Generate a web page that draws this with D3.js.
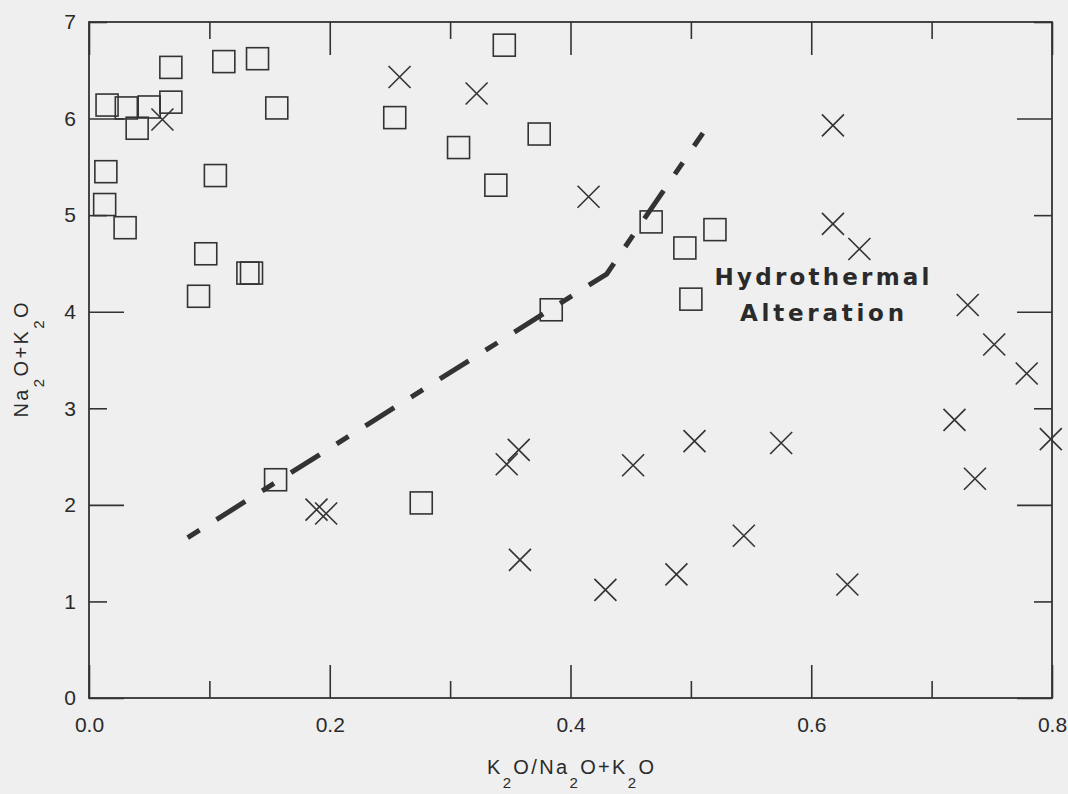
<!DOCTYPE html>
<html>
<head>
<meta charset="utf-8">
<script src="https://cdn.jsdelivr.net/npm/d3@7"></script>
<style>
  html, body { margin: 0; padding: 0; background: #efefef; }
  svg { display: block; }
</style>
</head>
<body>
<div id="chart"></div>
<script>
// values
const squareX = [0.015, 0.031, 0.050, 0.040, 0.068, 0.068, 0.112, 0.140, 0.156, 0.014, 0.105, 0.013, 0.030, 0.097, 0.132, 0.135, 0.091, 0.155, 0.345, 0.254, 0.374, 0.307, 0.338, 0.467, 0.495, 0.520, 0.500, 0.384, 0.276];
const squareY = [6.14, 6.11, 6.12, 5.90, 6.17, 6.53, 6.59, 6.62, 6.11, 5.45, 5.41, 5.11, 4.87, 4.60, 4.40, 4.40, 4.16, 2.26, 6.76, 6.01, 5.84, 5.70, 5.31, 4.93, 4.66, 4.85, 4.13, 4.02, 2.02];

const crossX = [0.061, 0.258, 0.322, 0.415, 0.618, 0.618, 0.640, 0.730, 0.752, 0.779, 0.719, 0.799, 0.736, 0.575, 0.503, 0.452, 0.357, 0.347, 0.189, 0.197, 0.358, 0.544, 0.488, 0.429, 0.630];
const crossY = [5.99, 6.43, 6.26, 5.19, 5.93, 4.91, 4.65, 4.07, 3.66, 3.36, 2.88, 2.68, 2.27, 2.64, 2.66, 2.41, 2.57, 2.42, 1.95, 1.91, 1.43, 1.68, 1.28, 1.12, 1.175];

// hand-drawn alteration trend
const trendX = [0.082, 0.430, 0.510];
const trendY = [1.66, 4.39, 5.85];

const xTicks = [0, 0.1, 0.2, 0.3, 0.4, 0.5, 0.6, 0.7, 0.8];
const xLabelTicks = [0, 0.2, 0.4, 0.6, 0.8];
const yTicks = [0, 1, 2, 3, 4, 5, 6, 7];
const yLongTicks = [0, 2, 4, 6];

let width = 1068,
    height = 794,
    margin = ({ top: 22, right: 16, bottom: 96, left: 89 });

const ink = "#333";
const fontAxis = "'Liberation Sans', Arial, sans-serif";

const svg = d3.select("#chart")
  .append("svg")
  .attr("width", width)
  .attr("height", height);

let x = d3.scaleLinear()
  .domain([0, 0.8])
  .range([margin.left, width - margin.right]);

let y = d3.scaleLinear()
  .domain([0, 7])
  .range([height - margin.bottom, margin.top]);

const isLongX = d => xLabelTicks.some(v => Math.abs(v - d) < 1e-9);
const isLongY = d => yLongTicks.includes(d);

// bottom axis (ticks point inward)
svg.append("g")
  .attr("transform", `translate(0,${y(0)})`)
  .call(d3.axisBottom(x).tickValues(xLabelTicks).tickSize(-33).tickPadding(19)
    .tickFormat(d3.format(".1f")));
svg.append("g")
  .attr("transform", `translate(0,${y(0)})`)
  .call(d3.axisBottom(x).tickValues(xTicks.filter(d => !isLongX(d))).tickSize(-17).tickFormat(""));

// top axis
svg.append("g")
  .attr("transform", `translate(0,${y(7)})`)
  .call(d3.axisTop(x).tickValues(xLabelTicks).tickSize(-33).tickFormat(""));
svg.append("g")
  .attr("transform", `translate(0,${y(7)})`)
  .call(d3.axisTop(x).tickValues(xTicks.filter(d => !isLongX(d))).tickSize(-17).tickFormat(""));

// left axis
let gl = svg.append("g")
  .attr("transform", `translate(${x(0)},0)`)
  .call(d3.axisLeft(y).tickValues(yTicks).tickSize(-18).tickPadding(13).tickFormat(d3.format("d")));
gl.selectAll(".tick line").attr("x2", d => isLongY(d) ? 35 : 18);

// right axis
let gr = svg.append("g")
  .attr("transform", `translate(${x(0.8)},0)`)
  .call(d3.axisRight(y).tickValues(yTicks).tickSize(-18).tickFormat(""));
gr.selectAll(".tick line").attr("x2", d => isLongY(d) ? -35 : -18);

svg.selectAll(".domain").remove();
svg.selectAll(".tick text").filter(function () { return this.textContent === ""; }).remove();
svg.selectAll(".tick line").attr("stroke", ink).attr("stroke-width", 1.6);
svg.selectAll(".tick text")
  .attr("fill", "#2a2a2a")
  .style("font-family", fontAxis)
  .style("font-size", "21px");

// frame
svg.append("rect")
  .attr("x", x(0))
  .attr("y", y(7))
  .attr("width", x(0.8) - x(0))
  .attr("height", y(0) - y(7))
  .attr("fill", "none")
  .attr("stroke", ink)
  .attr("stroke-width", 1.8);

// dashed trend line
let trend = trendX.map((v, i) => [v, trendY[i]]);
let line = d3.line()
  .x(d => x(d[0]))
  .y(d => y(d[1]));

svg.append("path")
  .datum(trend)
  .attr("d", line)
  .attr("fill", "none")
  .attr("stroke", ink)
  .attr("stroke-width", 5)
  .attr("stroke-dasharray", "14,20,34,20");

// squares
const half = 11;
svg.append("g")
  .selectAll("rect")
  .data(squareX.map((v, i) => [v, squareY[i]]))
  .join("rect")
  .attr("x", d => x(d[0]) - half)
  .attr("y", d => y(d[1]) - half)
  .attr("width", half * 2)
  .attr("height", half * 2)
  .attr("fill", "none")
  .attr("stroke", ink)
  .attr("stroke-width", 1.6);

// crosses
svg.append("g")
  .selectAll("path")
  .data(crossX.map((v, i) => [v, crossY[i]]))
  .join("path")
  .attr("d", d => {
    let cx = x(d[0]), cy = y(d[1]);
    return `M${cx - half},${cy - half}L${cx + half},${cy + half}M${cx - half},${cy + half}L${cx + half},${cy - half}`;
  })
  .attr("fill", "none")
  .attr("stroke", ink)
  .attr("stroke-width", 1.6);

// annotation
const note = svg.append("g")
  .attr("fill", "#2a2a2a")
  .style("font-family", "'DejaVu Sans', sans-serif")
  .style("font-weight", "bold")
  .style("font-size", "23px")
  .attr("text-anchor", "middle");

note.append("text")
  .attr("x", 822).attr("y", 285)
  .attr("textLength", 215).attr("lengthAdjust", "spacing")
  .text("Hydrothermal");

note.append("text")
  .attr("x", 822).attr("y", 321)
  .attr("textLength", 164).attr("lengthAdjust", "spacing")
  .text("Alteration");

// axis titles with subscripts: each subscript drops, the next part comes back up
function chemLabel(sel, parts, drop) {
  let prevSub = false;
  for (let p of parts) {
    let ts = sel.append("tspan").text(p.t);
    if (p.sub) {
      ts.attr("dy", drop).style("font-size", "15px");
    } else if (prevSub) {
      ts.attr("dy", -drop);
    }
    prevSub = !!p.sub;
  }
}

let xt = svg.append("text")
  .attr("x", (x(0) + x(0.8)) / 2)
  .attr("y", 774)
  .attr("text-anchor", "middle")
  .attr("fill", "#2a2a2a")
  .attr("textLength", 167)
  .attr("lengthAdjust", "spacing")
  .style("font-family", fontAxis)
  .style("font-size", "20px");
chemLabel(xt, [{t: "K"}, {t: "2", sub: true}, {t: "O/Na"}, {t: "2", sub: true}, {t: "O+K"}, {t: "2", sub: true}, {t: "O"}], 14);

let yt = svg.append("text")
  .attr("transform", `translate(28,${(y(0) + y(7)) / 2}) rotate(-90)`)
  .attr("text-anchor", "middle")
  .attr("fill", "#2a2a2a")
  .attr("textLength", 115)
  .attr("lengthAdjust", "spacing")
  .style("font-family", fontAxis)
  .style("font-size", "20px");
chemLabel(yt, [{t: "Na"}, {t: "2", sub: true}, {t: "O+K"}, {t: "2", sub: true}, {t: "O"}], 16);
</script>
</body>
</html>
